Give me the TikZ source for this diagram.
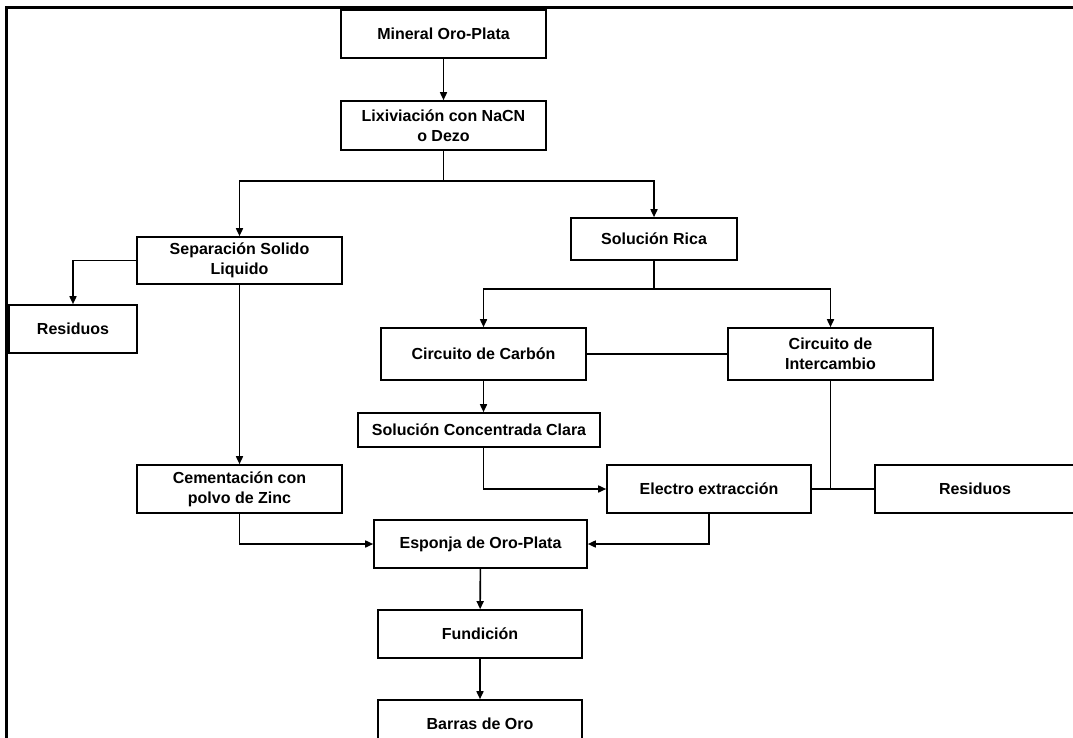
\documentclass[tikz,border=0pt]{standalone}
\usepackage{fontspec}
\setmainfont{Liberation Sans}
\usetikzlibrary{arrows.meta}

\tikzset{
  box/.style={draw, rectangle, line width=1.6pt, align=center, inner sep=0pt,
    font=\bfseries\fontsize{16}{20}\selectfont},
  link/.style={line width=1.6pt},
  arrowlink/.style={link, -{Triangle[length=8pt,width=7pt]}}
}

\begin{document}
\begin{tikzpicture}[x=1pt, y=-1pt]
				\useasboundingbox (0,0) rectangle (1073,738);
				\clip (0,0) rectangle (1073,738);
				
				% frame
				\draw[line width=3pt] (6,740) -- (6,8) -- (1075,8);
				
				\node (mineral) [box, minimum width=205, minimum height=48] at (443.5,34) {Mineral Oro-Plata};
				\node (lixiv) [box, minimum width=205, minimum height=49] at (443.5,125.5) {Lixiviación con NaCN\\o Dezo};
				\node (separ) [box, minimum width=205, minimum height=47] at (239.5,260.5) {Separación Solido\\Liquido};
				\node (rica) [box, minimum width=166, minimum height=42] at (654,239) {Solución Rica};
				\node (resid1) [box, minimum width=128, minimum height=48] at (73,329) {Residuos};
				\node (carbon) [box, minimum width=205, minimum height=52] at (483.5,354) {Circuito de Carbón};
				\node (interc) [box, minimum width=205, minimum height=52] at (830.5,354) {Circuito de\\Intercambio};
				\node (clara) [box, minimum width=242, minimum height=34] at (479,430) {Solución Concentrada Clara};
				\node (electro) [box, minimum width=204, minimum height=48] at (709,489) {Electro extracción};
				\node (resid2) [box, minimum width=200, minimum height=48] at (975,489) {Residuos};
				\node (cement) [box, minimum width=205, minimum height=48] at (239.5,489) {Cementación con\\polvo de Zinc};
				\node (esponja) [box, minimum width=213, minimum height=48] at (480.5,544) {Esponja de Oro-Plata};
				\node (fundic) [box, minimum width=204, minimum height=48] at (480,634) {Fundición};
				\node (barras) [box, minimum width=204, minimum height=48] at (480,724) {Barras de Oro};
				
				\coordinate (split1) at (443.5,181);
				\coordinate (split2) at (654,289);
				
				% Arrows
				\draw[arrowlink] (mineral) -- (lixiv);
				\draw[link] (lixiv.south) -- (split1);
				\draw[arrowlink] (split1) -| (separ.north);
				\draw[arrowlink] (split1) -| (rica.north);
				\draw[arrowlink] (separ.west) -| (resid1.north);
				\draw[arrowlink] (separ) -- (cement);
				\draw[link] (rica.south) -- (split2);
				\draw[arrowlink] (split2) -| (carbon.north);
				\draw[arrowlink] (split2) -| (interc.north);
				\draw[link] (carbon) -- (interc);
				\draw[arrowlink] (carbon.south) -- (carbon.south |- clara.north);
				\draw[arrowlink] (carbon.south |- clara.south) |- (electro.west);
				\draw[link] (electro) -- (resid2);
				\draw[link] (interc.south) -- (interc.south |- electro.east);
				\draw[arrowlink] (cement.south) |- (esponja.west);
				\draw[arrowlink] (electro.south) |- (esponja.east);
				\draw[arrowlink] (esponja) -- (fundic);
				\draw[arrowlink] (fundic) -- (barras);
				
			\end{tikzpicture}
\end{document}
